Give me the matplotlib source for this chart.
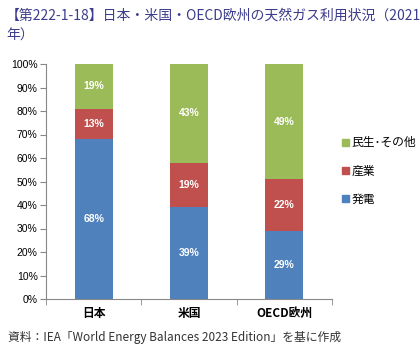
import numpy as np
from matplotlib import pyplot as plt
from matplotlib.patches import Patch

plt.rcParams['font.family'] = ['Noto Sans CJK JP', 'DejaVu Sans']

regions = ['日本', '米国', 'OECD欧州']
power = [68, 39, 29]      # 発電
industry = [13, 19, 22]   # 産業
other = [19, 43, 49]      # 民生・その他
series = [('発電', power, '#4f81bd'), ('産業', industry, '#c0504d'), ('民生･その他', other, '#9bbb59')]

fig = plt.figure(figsize=(4.2, 3.55), dpi=100)
ax = fig.add_axes([46 / 420, 56 / 355, 286 / 420, 235 / 355])

x = np.arange(len(regions))
bottom = np.zeros(len(regions))
for name, vals, color in series:
    vals = np.array(vals, dtype=float)
    ax.bar(x, vals, 0.4, bottom=bottom, color=color, label=name)
    for xi, b, v in zip(x, bottom, vals):
        ax.text(xi, b + min(v, 100 - b) / 2, f'{v:.0f}%', ha='center', va='center',
                color='white', fontsize=7.5, fontweight='bold', family='Liberation Sans')
    bottom += vals

ax.set_xlim(-0.5, 2.5)
ax.set_ylim(0, 100)
ax.set_yticks(np.arange(0, 101, 10))
ax.set_yticklabels([f'{t}%' for t in range(0, 101, 10)], fontsize=7.5, family='Liberation Sans')
ax.set_xticks(x)
ax.set_xticklabels(regions, fontsize=8.5, fontweight='bold')
ax.set_xticks([-0.5, 0.5, 1.5, 2.5], minor=True)
ax.tick_params(axis='x', which='major', length=0, pad=6)
ax.tick_params(axis='x', which='minor', length=4, color='#888888')
ax.tick_params(axis='y', length=4, color='#888888', pad=2)
for s in ['top', 'right']:
    ax.spines[s].set_visible(False)
for s in ['left', 'bottom']:
    ax.spines[s].set_color('#888888')
    ax.spines[s].set_linewidth(0.8)

handles = [Patch(color=c, label=n) for n, _, c in series[::-1]]
fig.legend(handles=handles, loc='upper left', bbox_to_anchor=(334 / 420, 1 - 128 / 355),
           frameon=False, fontsize=8.5, handlelength=0.55, handleheight=0.55,
           handletextpad=0.25, labelspacing=1.3, borderpad=0.2)

fig.text(6 / 420, 1 - 16 / 355, '【第222-1-18】日本・米国・OECD欧州の天然ガス利用状況（2021',
         color='#3c3c8c', fontsize=10, va='center')
fig.text(6 / 420, 1 - 36 / 355, '年）', color='#3c3c8c', fontsize=10, va='center')
fig.text(8 / 420, 1 - 337 / 355, '資料：IEA「World Energy Balances 2023 Edition」を基に作成',
         color='#333333', fontsize=8.5, va='center')

fig.savefig('out.png')
